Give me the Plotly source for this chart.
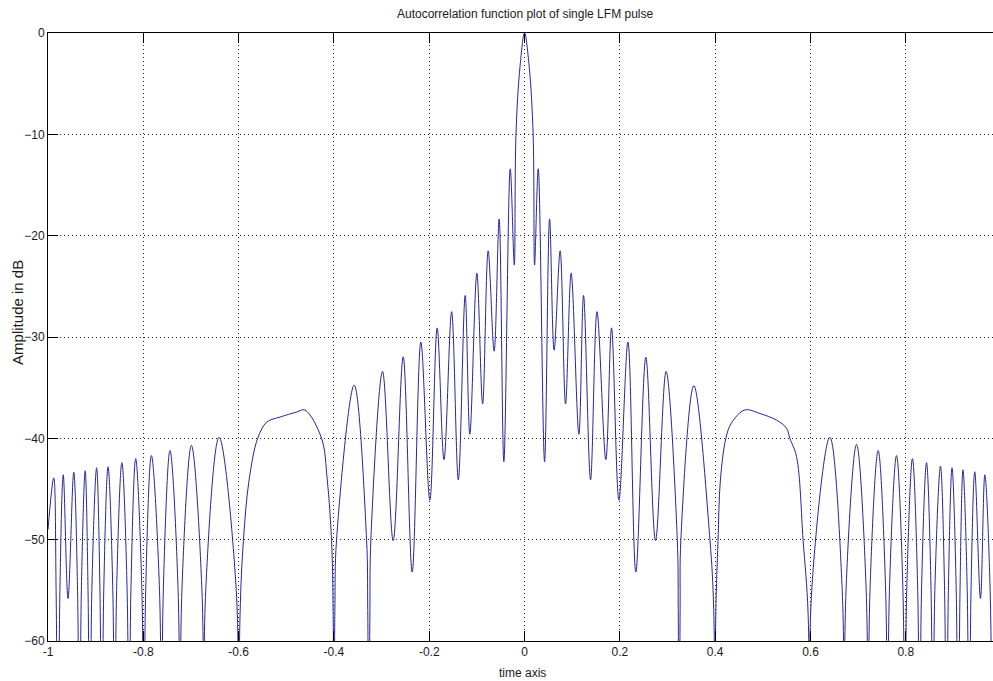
import plotly.graph_objects as go

# ---- data (time axis, amplitude in dB) ----
# left tail lobes (-1 .. -0.6); values near -55 are flank readings, -80 marks nulls below the axis
t_left_tail = [-1.0, -0.988, -0.983, -0.979, -0.975, -0.968, -0.958, -0.946, -0.938, -0.934,
               -0.930, -0.922, -0.916, -0.912, -0.908, -0.898, -0.891, -0.887, -0.883,
               -0.874, -0.864, -0.860, -0.856, -0.845, -0.834, -0.830, -0.826, -0.816,
               -0.803, -0.799, -0.795, -0.783, -0.766, -0.762, -0.758, -0.744, -0.727,
               -0.723, -0.719, -0.699, -0.677, -0.673, -0.669, -0.641, -0.605]
a_left_tail = [-49.0, -43.9, -55, -80, -55, -43.6, -55.8, -43.35, -55, -80,
               -55, -43.2, -55, -80, -55, -42.9, -55, -80, -55,
               -42.8, -55, -80, -55, -42.4, -55, -80, -55, -42.0,
               -55, -80, -55, -41.7, -55, -80, -55, -41.2, -55,
               -80, -55, -40.7, -55, -80, -55, -39.9, -55]
# left wide lobe (-0.6 .. -0.4)
t_left_wide = [-0.601, -0.597, -0.590, -0.578, -0.560, -0.541, -0.513, -0.478, -0.461,
               -0.426, -0.414, -0.405, -0.4016, -0.400, -0.398, -0.3945]
a_left_wide = [-80, -57.4, -50.1, -44.1, -40.0, -38.4, -37.9, -37.4, -37.2,
               -40.0, -44.1, -50.1, -57.4, -80, -57, -50]
# central region (-0.4 .. 0.4)
t_center = [-0.3575, -0.3315, -0.329, -0.3267, -0.3245, -0.3225, -0.298, -0.2757,
            -0.2547, -0.2358, -0.2176, -0.1987, -0.1834, -0.169, -0.153, -0.139,
            -0.1246, -0.1148, -0.1001, -0.088, -0.0764, -0.0638, -0.0533, -0.0434,
            -0.030, -0.0215, -0.018, -0.0095, 0.0, 0.0097, 0.018, 0.021, 0.0287,
            0.042, 0.0525, 0.062, 0.0747, 0.086, 0.0978, 0.114, 0.1238, 0.1385,
            0.152, 0.1706, 0.1825, 0.198, 0.217, 0.2335, 0.2545, 0.2748, 0.297,
            0.3205, 0.3225, 0.3244, 0.3264, 0.328, 0.3552]
a_center = [-34.75, -50, -57, -80, -57, -50, -33.4, -50.1,
            -31.96, -53.2, -30.5, -46.1, -29.1, -42.1, -27.5, -44.1,
            -25.9, -39.6, -23.7, -36.6, -21.5, -31.4, -18.35, -42.3,
            -13.4, -22.9, -10.0, -3.3, 0.0, -3.3, -10.0, -22.9, -13.4,
            -42.3, -18.35, -31.3, -21.5, -36.6, -23.7, -39.6, -25.9, -44.1,
            -27.5, -42.1, -29.1, -46.1, -30.5, -53.2, -32.0, -50.1, -33.4,
            -50, -57, -80, -57, -50, -34.8]
# right wide lobe (0.4 .. 0.6)
t_right_wide = [0.389, 0.397, 0.3993, 0.4013, 0.406, 0.411, 0.4224, 0.434, 0.4622,
                0.4937, 0.5287, 0.5497, 0.5567, 0.5707, 0.5846, 0.595, 0.5986]
a_right_wide = [-50, -57, -80, -57.4, -50.1, -44.1, -40.0, -38.5, -37.2,
                -37.55, -38.2, -39.0, -40.0, -41.8, -50.1, -57.3, -80]
# right tail lobes (0.6 .. end)
t_right_tail = [0.6026, 0.6406, 0.6666, 0.6706, 0.6746, 0.6966, 0.7169, 0.7209, 0.7249,
                0.742, 0.7577, 0.7617, 0.7657, 0.7805, 0.794, 0.798, 0.802, 0.814,
                0.825, 0.829, 0.833, 0.8435, 0.853, 0.857, 0.861, 0.8728, 0.8814,
                0.8854, 0.8894, 0.897, 0.9058, 0.9098, 0.9138, 0.920, 0.9289, 0.9329,
                0.9369, 0.9448, 0.9567, 0.9658, 0.977, 0.981]
a_right_tail = [-55, -39.9, -55, -80, -55, -40.6, -55, -80, -55,
                -41.2, -55, -80, -55, -41.7, -55, -80, -55, -42.0,
                -55, -80, -55, -42.4, -55, -80, -55, -42.75, -55,
                -80, -55, -42.9, -55, -80, -55, -43.1, -55, -80,
                -55, -43.3, -55.8, -43.6, -55, -80]

t = t_left_tail + t_left_wide + t_center + t_right_wide + t_right_tail
amp = a_left_tail + a_left_wide + a_center + a_right_wide + a_right_tail

x_ticks = [-1, -0.8, -0.6, -0.4, -0.2, 0, 0.2, 0.4, 0.6, 0.8]
x_tick_text = ["-1", "-0.8", "-0.6", "-0.4", "-0.2", "0", "0.2", "0.4", "0.6", "0.8"]
y_ticks = [-60, -50, -40, -30, -20, -10, 0]

FONT = "Liberation Sans, Arial, sans-serif"
TXT = "#1a1a1a"

fig = go.Figure()
fig.add_trace(go.Scatter(
    x=t, y=amp, mode="lines",
    line=dict(color="#26269a", width=1, shape="spline", smoothing=1.0),
    hoverinfo="skip", showlegend=False,
))

fig.update_layout(
    width=993, height=681,
    margin=dict(l=48, r=0, t=33, b=40),
    paper_bgcolor="white", plot_bgcolor="white",
    font=dict(family=FONT, size=12, color=TXT),
    xaxis=dict(
        range=[-1, 0.983], tickvals=x_ticks, ticktext=x_tick_text,
        showgrid=True, gridcolor="#222", griddash="1px,3px", gridwidth=1,
        zeroline=False, showline=True, linecolor="black", linewidth=1,
        mirror="allticks", ticks="inside", ticklen=10, tickcolor="black",
        tickfont=dict(family=FONT, size=12, color=TXT),
    ),
    yaxis=dict(
        range=[-60, 0], tickvals=y_ticks,
        showgrid=True, gridcolor="#222", griddash="1px,3px", gridwidth=1,
        zeroline=False, showline=True, linecolor="black", linewidth=1,
        mirror=False, ticks="inside", ticklen=10, tickcolor="black",
        tickfont=dict(family=FONT, size=12, color=TXT),
    ),
    annotations=[
        dict(text="Autocorrelation function plot of single LFM pulse",
             xref="x", x=0, yref="paper", y=1.03125, xanchor="center", yanchor="middle",
             showarrow=False, font=dict(family=FONT, size=12, color=TXT)),
        dict(text="time axis", xref="x", x=-0.004, yref="paper", y=-0.0526,
             xanchor="center", yanchor="middle", showarrow=False,
             font=dict(family=FONT, size=12, color=TXT)),
        dict(text="Amplitude in dB", xref="paper", x=-0.033, yref="paper", y=0.541,
             xanchor="center", yanchor="middle", textangle=-90, showarrow=False,
             font=dict(family=FONT, size=15, color=TXT)),
    ],
)

fig.write_html("out.html")
